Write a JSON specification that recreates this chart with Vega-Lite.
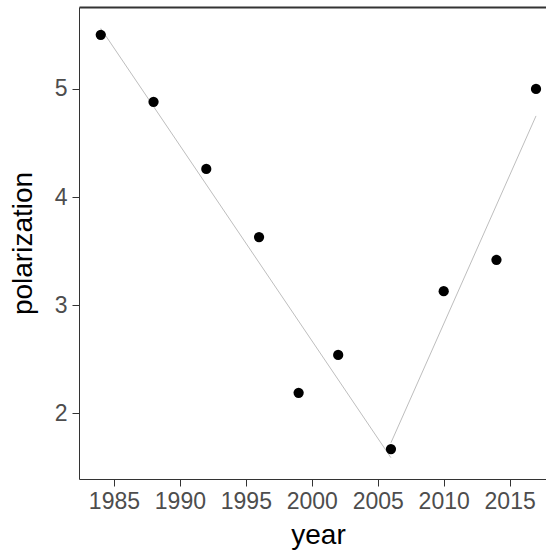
{
  "$schema": "https://vega.github.io/schema/vega-lite/v6.json",
  "width": 467,
  "height": 472,
  "autosize": {"type": "none"},
  "padding": {"left": 79, "top": 7, "right": 0, "bottom": 74},
  "background": "white",
  "config": {"view": {"stroke": null}, "font": "Liberation Sans"},
  "datasets": {
    "points": [
      {"year": 1984, "polarization": 5.50},
      {"year": 1988, "polarization": 4.88},
      {"year": 1992, "polarization": 4.26},
      {"year": 1996, "polarization": 3.63},
      {"year": 1999, "polarization": 2.19},
      {"year": 2002, "polarization": 2.54},
      {"year": 2006, "polarization": 1.67},
      {"year": 2010, "polarization": 3.13},
      {"year": 2014, "polarization": 3.42},
      {"year": 2017, "polarization": 5.00}
    ],
    "fits": [
      {"segment": "before", "year": 1984, "fit": 5.559},
      {"segment": "before", "year": 2006, "fit": 1.590},
      {"segment": "after", "year": 2006, "fit": 1.728},
      {"segment": "after", "year": 2017, "fit": 4.750}
    ]
  },
  "layer": [
    {
      "data": {"name": "fits"},
      "mark": {"type": "line", "color": "#bebebe", "strokeWidth": 1},
      "encoding": {
        "x": {
          "field": "year", "type": "quantitative",
          "scale": {"domain": [1982.35, 2017.756], "nice": false, "zero": false},
          "axis": {"orient": "top", "labels": false, "ticks": false, "title": null, "grid": false,
                   "domainColor": "#333333", "domainWidth": 2}
        },
        "y": {
          "field": "fit", "type": "quantitative",
          "scale": {"domain": [1.393, 5.757], "nice": false, "zero": false},
          "axis": {"title": "polarization", "values": [2, 3, 4, 5], "grid": false,
                   "domainColor": "#333333", "domainWidth": 1,
                   "tickColor": "#333333", "tickSize": 7, "tickWidth": 1,
                   "labelFontSize": 23, "labelColor": "#4d4d4d", "labelPadding": 5,
                   "titleFontSize": 28, "titleFontWeight": "normal", "titleColor": "black",
                   "titleX": -48, "titleY": 236, "titleBaseline": "alphabetic", "titleAlign": "center", "titleAngle": -90}
        },
        "detail": {"field": "segment"}
      }
    },
    {
      "data": {"name": "points"},
      "mark": {"type": "circle", "color": "black", "opacity": 1, "size": 105},
      "encoding": {
        "x": {
          "field": "year", "type": "quantitative",
          "axis": {"orient": "bottom", "title": "year", "values": [1985, 1990, 1995, 2000, 2005, 2010, 2015],
                   "format": "d", "grid": false,
                   "domainColor": "#333333", "domainWidth": 1,
                   "tickColor": "#333333", "tickSize": 7, "tickWidth": 1,
                   "labelFontSize": 23, "labelColor": "#4d4d4d", "labelPadding": 4,
                   "titleFontSize": 28, "titleFontWeight": "normal", "titleColor": "black",
                   "titleX": 239, "titleY": 64, "titleBaseline": "alphabetic", "titleAlign": "center"}
        },
        "y": {
          "field": "polarization", "type": "quantitative",
          "axis": {"title": "polarization", "values": [2, 3, 4, 5], "grid": false,
                   "domainColor": "#333333", "domainWidth": 1,
                   "tickColor": "#333333", "tickSize": 7, "tickWidth": 1,
                   "labelFontSize": 23, "labelColor": "#4d4d4d", "labelPadding": 5,
                   "titleFontSize": 28, "titleFontWeight": "normal", "titleColor": "black",
                   "titleX": -48, "titleY": 236, "titleBaseline": "alphabetic", "titleAlign": "center", "titleAngle": -90}
        }
      }
    }
  ],
  "resolve": {"axis": {"x": "independent"}}
}
